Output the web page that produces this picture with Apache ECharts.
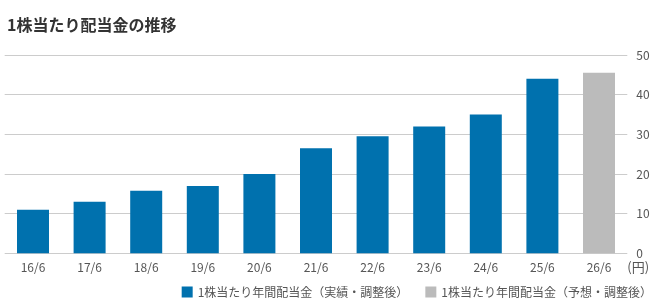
<!DOCTYPE html>
<html><head><meta charset="utf-8">
<script src="https://cdn.jsdelivr.net/npm/echarts@6/dist/echarts.min.js"></script>
<style>html,body{margin:0;padding:0;background:#fff}#c{width:661px;height:299px}</style>
</head><body><div id="c"></div>
<script>
const categories = ['16/6','17/6','18/6','19/6','20/6','21/6','22/6','23/6','24/6','25/6','26/6'];
const actualValues = [11, 13, 15.75, 17, 20, 26.5, 29.5, 32, 35, 44, null];
const forecastValues = [null, null, null, null, null, null, null, null, null, null, 45.5];
const yTicks = [0, 10, 20, 30, 40, 50];
const seriesNames = ['1株当たり年間配当金（実績・調整後）', '1株当たり年間配当金（予想・調整後）'];
const titleText = '1株当たり配当金の推移';
const unitLabel = '(円)';

const FONT = '"Noto Sans CJK JP", sans-serif';
const chart = echarts.init(document.getElementById('c'), null, {renderer: 'canvas'});
chart.setOption({
  animation: false,
  title: {text: titleText, left: 2, top: 12,
    textStyle: {fontFamily: FONT, fontSize: 16, fontWeight: 'bold', color: '#333'}},
  legend: {right: 4, top: 281, itemWidth: 11, itemHeight: 11, itemGap: 17,
    icon: 'rect',
    textStyle: {fontFamily: FONT, fontSize: 12, color: '#555'},
    data: seriesNames},
  grid: {left: 4.7, right: 33.7, top: 55, bottom: 45.7, containLabel: false},
  xAxis: {type: 'category', data: categories,
    axisLine: {show: false}, axisTick: {show: false},
    axisLabel: {fontFamily: FONT, fontSize: 12, color: '#555', margin: 8}},
  yAxis: {type: 'value', position: 'right', min: yTicks[0], max: yTicks[yTicks.length-1], interval: 10,
    name: unitLabel, nameLocation: 'start', nameGap: 7,
    nameTextStyle: {fontFamily: FONT, fontSize: 13, color: '#555', align: 'left', verticalAlign: 'top', padding: [0,0,0,0]},
    axisLine: {show: false}, axisTick: {show: false},
    splitLine: {lineStyle: {color: '#cccccc', width: 1}},
    axisLabel: {fontFamily: FONT, fontSize: 12, color: '#555', margin: 9}},
  series: [
    {name: seriesNames[0], type: 'bar', stack: 's', data: actualValues, barWidth: 32,
      itemStyle: {color: '#0071ae'}},
    {name: seriesNames[1], type: 'bar', stack: 's', data: forecastValues, barWidth: 32,
      itemStyle: {color: '#bbbbbb'}}
  ]
});
</script></body></html>
